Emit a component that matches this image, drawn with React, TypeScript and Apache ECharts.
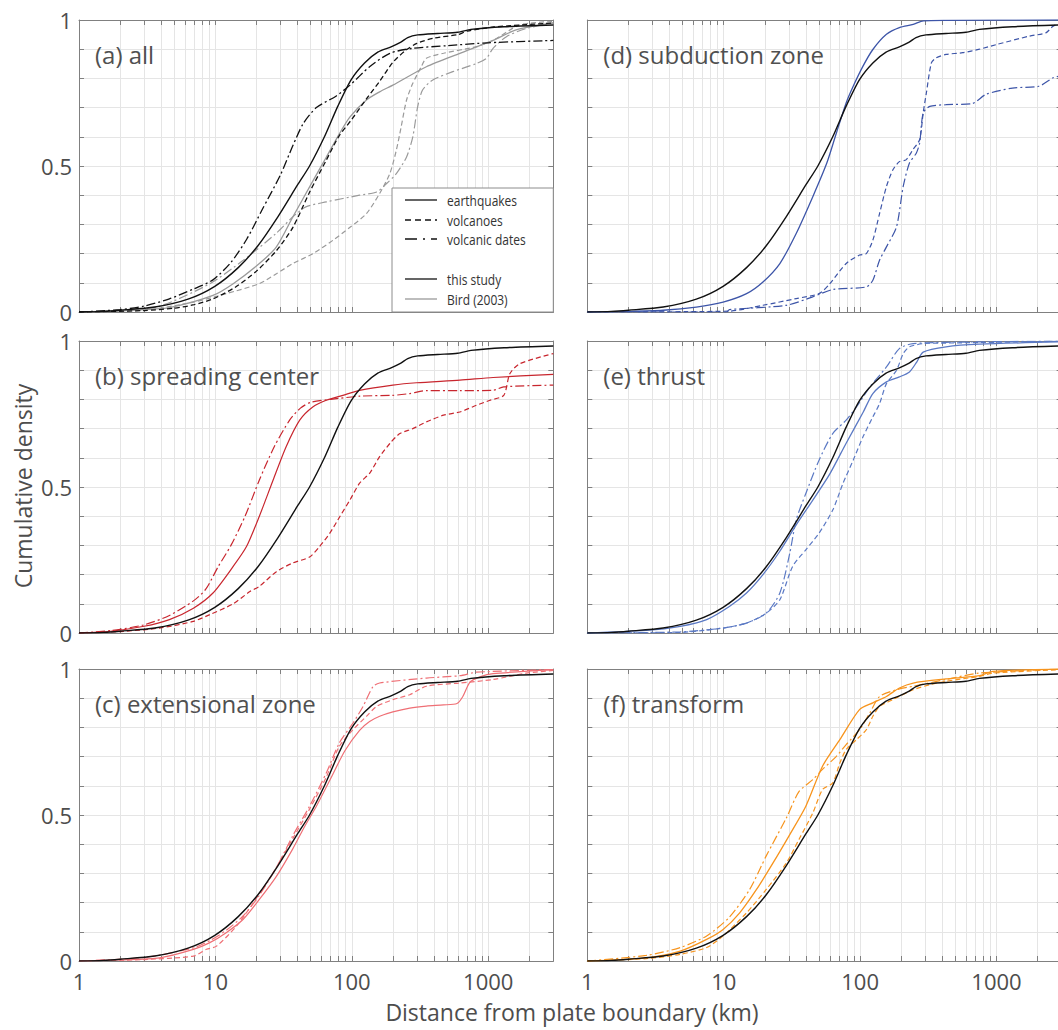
import React, { useEffect, useRef } from "react";
import * as echarts from "echarts";

// ---------- axis definitions ----------
const X_MIN = 1;
const X_MAX = 3000;
const X_LABELS = [1, 10, 100, 1000];
const X_MINOR = [1, 2, 3, 4, 5, 6, 7, 8, 9, 10, 20, 30, 40, 50, 60, 70, 80, 90, 100, 200, 300, 400, 500, 600, 700, 800, 900, 1000, 2000];
const Y_LABELS = [0, 0.5, 1];

const PANEL_TITLES = ["(a) all", "(b) spreading center", "(c) extensional zone", "(d) subduction zone", "(e) thrust", "(f) transform"];
const LEGEND_TYPES = ["earthquakes", "volcanoes", "volcanic dates"];
const LEGEND_SOURCES = ["this study", "Bird (2003)"];
const X_TITLE = "Distance from plate boundary (km)";
const Y_TITLE = "Cumulative density";

// ---------- data: [distance km, cumulative density] ----------
// earthquakes, this study (black reference, all panels)
const EQ_ALL = [[1,0],[1.5,0.002],[2,0.006],[3.6,0.017],[6.3,0.044],[9.9,0.088],[14.7,0.152],[20.5,0.227],[28.7,0.326],[40,0.435],[49,0.5],[63,0.6],[79,0.705],[99,0.796],[124,0.853],[155,0.89],[194,0.908],[229,0.924],[257,0.94],[304,0.949],[426,0.954],[597,0.958],[747,0.968],[1309,0.977],[3000,0.983]];
// (a) all
const VO_THIS = [[1,0],[3,0.005],[5,0.013],[7,0.025],[9.6,0.045],[14,0.085],[20,0.14],[28,0.21],[37,0.29],[49,0.41],[65,0.52],[80,0.6],[100,0.66],[128,0.73],[160,0.79],[200,0.855],[250,0.897],[300,0.92],[400,0.938],[600,0.95],[700,0.962],[1100,0.976],[3000,0.99]];
const VD_THIS = [[1,0],[2,0.008],[3,0.02],[4.6,0.045],[7,0.08],[9.6,0.11],[13,0.17],[17,0.25],[22,0.35],[30,0.47],[37,0.57],[44,0.645],[55,0.7],[77,0.74],[97,0.777],[135,0.84],[190,0.886],[280,0.903],[500,0.912],[1000,0.922],[3000,0.93]];
const EQ_BIRD = [[1,0],[2,0.004],[3,0.008],[4.6,0.015],[9.6,0.057],[13.5,0.097],[21,0.166],[28,0.223],[37,0.326],[52,0.45],[65,0.53],[81,0.61],[97,0.668],[128,0.726],[160,0.754],[200,0.777],[352,0.84],[620,0.886],[1085,0.93],[1600,0.966],[3000,0.99]];
const VO_BIRD = [[1,0],[3,0.006],[6.9,0.034],[12,0.063],[21,0.097],[28,0.131],[37,0.166],[52,0.2],[73,0.246],[97,0.29],[128,0.337],[160,0.406],[190,0.474],[212,0.554],[230,0.634],[252,0.726],[280,0.783],[323,0.84],[352,0.869],[470,0.886],[820,0.909],[1085,0.93],[1700,0.983],[3000,0.995]];
const VD_BIRD = [[1,0],[2,0.006],[3.9,0.02],[9.1,0.097],[16,0.177],[28,0.27],[37,0.326],[46,0.36],[65,0.377],[114,0.4],[152,0.411],[180,0.44],[212,0.474],[252,0.531],[280,0.6],[304,0.703],[330,0.76],[390,0.794],[550,0.823],[820,0.851],[970,0.869],[1085,0.903],[1360,0.943],[1900,0.971],[3000,0.99]];
// (b) spreading center
const EQ_SC = [[1,0],[1.7,0.006],[3,0.023],[4.6,0.046],[6.9,0.085],[9.6,0.137],[13.5,0.228],[16.9,0.296],[21,0.4],[26.5,0.524],[33,0.638],[41.5,0.729],[52,0.775],[65,0.797],[86,0.814],[114,0.831],[200,0.849],[298,0.857],[620,0.866],[1085,0.875],[3000,0.886]];
const VO_SC = [[1,0],[2,0.005],[3.9,0.017],[6.9,0.04],[9.1,0.063],[13.5,0.1],[17.9,0.142],[21,0.16],[28,0.21],[37,0.24],[49,0.26],[58,0.296],[69,0.342],[82,0.4],[97,0.456],[114,0.513],[135,0.547],[160,0.604],[190,0.649],[225,0.683],[280,0.7],[352,0.723],[470,0.746],[620,0.757],[820,0.78],[1030,0.797],[1300,0.814],[1440,0.888],[1700,0.922],[3000,0.957]];
const VD_SC = [[1,0],[1.7,0.008],[3,0.028],[4.6,0.06],[6.9,0.11],[8.5,0.15],[10.5,0.228],[13,0.3],[16.5,0.4],[21,0.524],[27,0.638],[35,0.729],[42,0.77],[50,0.79],[70,0.8],[114,0.811],[200,0.814],[266,0.82],[352,0.83],[620,0.83],[1085,0.831],[1300,0.843],[3000,0.849]];
// (c) extensional zone
const EQ_EX = [[1,0],[2,0.004],[3.9,0.011],[6.9,0.04],[9.1,0.063],[12,0.097],[16,0.143],[21,0.211],[28,0.29],[37,0.385],[45,0.46],[55,0.53],[70,0.625],[89,0.72],[114,0.79],[135,0.82],[160,0.838],[200,0.853],[266,0.866],[352,0.873],[470,0.877],[590,0.882],[650,0.905],[735,0.955],[870,0.973],[1085,0.984],[3000,0.998]];
const VO_EX = [[1,0],[3,0.005],[6.9,0.017],[8.6,0.04],[10.2,0.051],[14.3,0.12],[19,0.2],[26.5,0.302],[37,0.42],[49,0.52],[65,0.63],[81,0.735],[102,0.792],[128,0.838],[152,0.872],[200,0.895],[266,0.912],[352,0.941],[620,0.952],[1085,0.964],[1900,0.986],[3000,0.995]];
const VD_EX = [[1,0],[3,0.012],[6.9,0.045],[9.1,0.07],[12,0.105],[16,0.155],[21,0.225],[28,0.32],[37,0.43],[49,0.53],[65,0.644],[81,0.747],[102,0.815],[121,0.872],[143,0.94],[160,0.952],[352,0.969],[620,0.977],[820,0.989],[3000,0.998]];
// (d) subduction zone
const EQ_SU = [[1,0],[2,0.002],[3.6,0.006],[6.3,0.017],[9.9,0.034],[14.7,0.063],[19.4,0.103],[25.8,0.166],[34,0.269],[45,0.395],[57,0.51],[67,0.613],[79,0.716],[89,0.773],[105,0.842],[124,0.899],[156,0.951],[194,0.974],[245,0.985],[291,0.997],[426,0.999],[3000,1]];
const VO_SU = [[1,0],[11,0.003],[19.4,0.023],[34,0.046],[50,0.063],[60,0.097],[79,0.166],[99,0.195],[111,0.2],[124,0.246],[139,0.338],[156,0.43],[174,0.487],[194,0.515],[217,0.521],[244,0.556],[273,0.59],[290,0.682],[306,0.75],[333,0.853],[360,0.87],[426,0.882],[565,0.888],[750,0.9],[1000,0.916],[1750,0.945],[2300,0.956],[2600,0.979],[3000,0.99]];
const VD_SU = [[1,0],[10.5,0],[11,0.008],[28.8,0.023],[45,0.052],[63,0.077],[111,0.086],[124,0.109],[139,0.178],[156,0.223],[185,0.292],[207,0.43],[230,0.51],[258,0.544],[273,0.578],[290,0.682],[324,0.704],[426,0.71],[666,0.714],[835,0.745],[1310,0.767],[2040,0.773],[2600,0.802],[3000,0.81]];
// (e) thrust
const EQ_TH = [[1,0],[2.7,0.009],[4.8,0.023],[7.5,0.046],[11,0.091],[14.7,0.137],[19.4,0.2],[25.8,0.28],[34,0.37],[45,0.455],[60,0.545],[79,0.65],[105,0.755],[124,0.82],[156,0.86],[194,0.877],[230,0.894],[260,0.928],[290,0.962],[426,0.98],[750,0.989],[3000,0.997]];
const VO_TH = [[1,0],[4.8,0.002],[9.9,0.017],[14.7,0.034],[20.5,0.068],[25.8,0.114],[32,0.228],[40,0.285],[50,0.342],[63,0.421],[75,0.513],[89,0.592],[105,0.672],[124,0.74],[139,0.786],[156,0.854],[185,0.9],[207,0.957],[230,0.98],[290,0.991],[426,0.993],[3000,0.999]];
const VD_TH = [[1,0],[4.8,0.004],[9.9,0.017],[14.7,0.034],[20.5,0.068],[25.8,0.137],[30.5,0.273],[34,0.387],[40,0.478],[50,0.592],[63,0.683],[79,0.729],[94,0.774],[118,0.843],[156,0.911],[194,0.974],[245,0.991],[750,0.997],[3000,1]];
// (f) transform
const EQ_TR = [[1,0],[2.7,0.011],[4.8,0.034],[7.5,0.074],[9.9,0.108],[13.1,0.165],[17.4,0.245],[23,0.336],[30.5,0.433],[40,0.53],[53,0.667],[71,0.758],[99,0.861],[124,0.884],[156,0.906],[194,0.935],[245,0.952],[426,0.966],[750,0.977],[940,0.992],[3000,1]];
const VO_TR = [[1,0],[2.7,0.008],[4.8,0.023],[7.5,0.046],[9.9,0.086],[14.7,0.165],[20.5,0.245],[28.8,0.336],[35.6,0.416],[45,0.507],[53,0.587],[63,0.61],[71,0.678],[79,0.724],[94,0.758],[111,0.792],[124,0.838],[139,0.872],[174,0.895],[245,0.929],[324,0.946],[426,0.958],[750,0.975],[940,0.986],[3000,0.998]];
const VD_TR = [[1,0],[2.7,0.019],[4.8,0.046],[7.5,0.086],[11,0.15],[15.5,0.245],[20.5,0.36],[28.8,0.49],[35.6,0.58],[45,0.621],[53,0.656],[67,0.701],[79,0.741],[99,0.792],[118,0.85],[139,0.906],[185,0.929],[245,0.941],[426,0.964],[750,0.986],[3000,1]];

// ---------- styling ----------
const FONT = '"Open Sans", "Noto Sans", sans-serif';
const TEXT = "#4d4d4d";
const FRAME = "#808080";
const GRID = "#e5e5e5";
const BLACK = "#111111";
const GRAY = "#9a9a9a";
const DASH = [5, 3];
const DASHDOT = [9, 3, 2, 3];

const LEFTS = [79, 587.3];
const TOPS = [20, 341, 669];
const W = 474.3;
const H = 292;

type Curve = { data: number[][]; color: string; dash: any; width: number };

const PANELS: { col: number; row: number; curves: Curve[] }[] = [
  { col: 0, row: 0, curves: [
    { data: VO_BIRD, color: GRAY, dash: DASH, width: 1.2 },
    { data: VD_BIRD, color: GRAY, dash: DASHDOT, width: 1.2 },
    { data: EQ_BIRD, color: GRAY, dash: "solid", width: 1.3 },
    { data: VO_THIS, color: BLACK, dash: DASH, width: 1.3 },
    { data: VD_THIS, color: BLACK, dash: DASHDOT, width: 1.3 },
    { data: EQ_ALL, color: BLACK, dash: "solid", width: 1.4 },
  ] },
  { col: 0, row: 1, curves: [
    { data: VO_SC, color: "#c8262e", dash: DASH, width: 1.2 },
    { data: VD_SC, color: "#c8262e", dash: DASHDOT, width: 1.2 },
    { data: EQ_SC, color: "#c8262e", dash: "solid", width: 1.2 },
    { data: EQ_ALL, color: BLACK, dash: "solid", width: 1.4 },
  ] },
  { col: 0, row: 2, curves: [
    { data: VO_EX, color: "#ef6f75", dash: DASH, width: 1.2 },
    { data: VD_EX, color: "#ef6f75", dash: DASHDOT, width: 1.2 },
    { data: EQ_EX, color: "#ef6f75", dash: "solid", width: 1.2 },
    { data: EQ_ALL, color: BLACK, dash: "solid", width: 1.4 },
  ] },
  { col: 1, row: 0, curves: [
    { data: VO_SU, color: "#3d55a8", dash: DASH, width: 1.2 },
    { data: VD_SU, color: "#3d55a8", dash: DASHDOT, width: 1.2 },
    { data: EQ_SU, color: "#3d55a8", dash: "solid", width: 1.3 },
    { data: EQ_ALL, color: BLACK, dash: "solid", width: 1.4 },
  ] },
  { col: 1, row: 1, curves: [
    { data: VO_TH, color: "#5b79c4", dash: DASH, width: 1.2 },
    { data: VD_TH, color: "#5b79c4", dash: DASHDOT, width: 1.2 },
    { data: EQ_TH, color: "#5b79c4", dash: "solid", width: 1.3 },
    { data: EQ_ALL, color: BLACK, dash: "solid", width: 1.4 },
  ] },
  { col: 1, row: 2, curves: [
    { data: VO_TR, color: "#f7941d", dash: DASH, width: 1.2 },
    { data: VD_TR, color: "#f7941d", dash: DASHDOT, width: 1.2 },
    { data: EQ_TR, color: "#f7941d", dash: "solid", width: 1.3 },
    { data: EQ_ALL, color: BLACK, dash: "solid", width: 1.4 },
  ] },
];

function yFmt(v: number) {
  const r = Math.round(v * 10) / 10;
  for (const l of Y_LABELS) if (Math.abs(r - l) < 1e-6) return String(l);
  return "";
}

function buildOption() {
  const grid: any[] = [];
  const xAxis: any[] = [];
  const yAxis: any[] = [];
  const series: any[] = [];
  const graphic: any[] = [];
  const axisLine = { show: true, onZero: false, lineStyle: { color: FRAME, width: 1 } };
  const tick = { show: true, inside: true, length: 5, lineStyle: { color: FRAME, width: 1 } };

  PANELS.forEach((p, i) => {
    const left = LEFTS[p.col];
    const top = TOPS[p.row];
    grid.push({ left, top, width: W, height: H, show: false, containLabel: false });
    xAxis.push({
      type: "log", logBase: 10, min: X_MIN, max: X_MAX, gridIndex: i, position: "bottom",
      axisLine, axisTick: { ...tick, customValues: X_MINOR },
      axisLabel: { show: p.row === 2, customValues: X_LABELS, formatter: (v: number) => String(Math.round(v)), color: TEXT, fontSize: 22, fontFamily: FONT, margin: 9 },
      splitLine: { show: true, lineStyle: { color: GRID, width: 1 } },
      minorTick: { show: false }, minorSplitLine: { show: false },
    });
    xAxis.push({
      type: "log", logBase: 10, min: X_MIN, max: X_MAX, gridIndex: i, position: "top",
      axisLine, axisTick: { ...tick, customValues: X_MINOR },
      axisLabel: { show: false }, splitLine: { show: false },
    });
    yAxis.push({
      type: "value", min: 0, max: 1, interval: 0.1, gridIndex: i, position: "left",
      axisLine, axisTick: tick,
      axisLabel: { show: p.col === 0, formatter: yFmt, color: TEXT, fontSize: 22, fontFamily: FONT, margin: 7 },
      splitLine: { show: true, lineStyle: { color: GRID, width: 1 } },
    });
    yAxis.push({
      type: "value", min: 0, max: 1, interval: 0.1, gridIndex: i, position: "right",
      axisLine, axisTick: tick, axisLabel: { show: false }, splitLine: { show: false },
    });
    p.curves.forEach((c) => {
      series.push({
        type: "line", xAxisIndex: 2 * i, yAxisIndex: 2 * i, data: c.data,
        showSymbol: false, symbol: "none", smooth: 0.25, clip: true,
        lineStyle: { color: c.color, width: c.width, type: c.dash },
        z: 3, silent: true,
      });
    });
    graphic.push({
      type: "text", x: left + 16, y: top + 34, z: 20,
      style: { text: PANEL_TITLES[i], fill: "#505050", fontSize: 24, fontFamily: FONT, align: "left", verticalAlign: "middle", textAlign: "left", textVerticalAlign: "middle" },
    });
  });

  graphic.push({
    type: "text", x: 23, y: 486, rotation: Math.PI / 2, z: 20,
    style: { text: Y_TITLE, fill: TEXT, fontSize: 23, fontFamily: FONT, align: "center", verticalAlign: "middle", textAlign: "center", textVerticalAlign: "middle" },
  });
  graphic.push({
    type: "text", x: 572, y: 1012, z: 20,
    style: { text: X_TITLE, fill: TEXT, fontSize: 23, fontFamily: FONT, align: "center", verticalAlign: "middle", textAlign: "center", textVerticalAlign: "middle" },
  });

  // legend in panel (a)
  const lx = 392, ly = 188, lw = LEFTS[0] + W - 392, lh = TOPS[0] + H - 188;
  graphic.push({ type: "rect", z: 15, shape: { x: lx, y: ly, width: lw, height: lh }, style: { fill: "#ffffff", stroke: "#8c8c8c", lineWidth: 1 } });
  const rows = [
    { label: LEGEND_TYPES[0], y: 200, color: BLACK, dash: null },
    { label: LEGEND_TYPES[1], y: 220, color: BLACK, dash: [6, 4] },
    { label: LEGEND_TYPES[2], y: 239, color: BLACK, dash: [12, 6, 2, 6] },
    { label: LEGEND_SOURCES[0], y: 279, color: BLACK, dash: null },
    { label: LEGEND_SOURCES[1], y: 299, color: GRAY, dash: null },
  ];
  rows.forEach((r) => {
    graphic.push({ type: "line", z: 16, shape: { x1: 405, y1: r.y, x2: 437, y2: r.y }, style: { stroke: r.color, lineWidth: 1.3, lineDash: r.dash || undefined } });
    graphic.push({
      type: "text", z: 16, x: 447, y: r.y, scaleX: 0.8,
      style: { text: r.label, fill: "#333333", fontSize: 15, fontFamily: FONT, align: "left", verticalAlign: "middle", textAlign: "left", textVerticalAlign: "middle" },
    });
  });

  return { animation: false, backgroundColor: "#ffffff", grid, xAxis, yAxis, series, graphic };
}

export default function App() {
  const ref = useRef<HTMLDivElement>(null);
  useEffect(() => {
    if (!ref.current) return;
    const chart = echarts.init(ref.current, undefined, { renderer: "svg" });
    chart.setOption(buildOption() as any);
    return () => chart.dispose();
  }, []);
  return (
    <div style={{ position: "absolute", left: 0, top: 0, width: 1058, height: 1030, overflow: "hidden", background: "#fff" }}>
      <div ref={ref} style={{ width: 1066, height: 1030 }} />
    </div>
  );
}
